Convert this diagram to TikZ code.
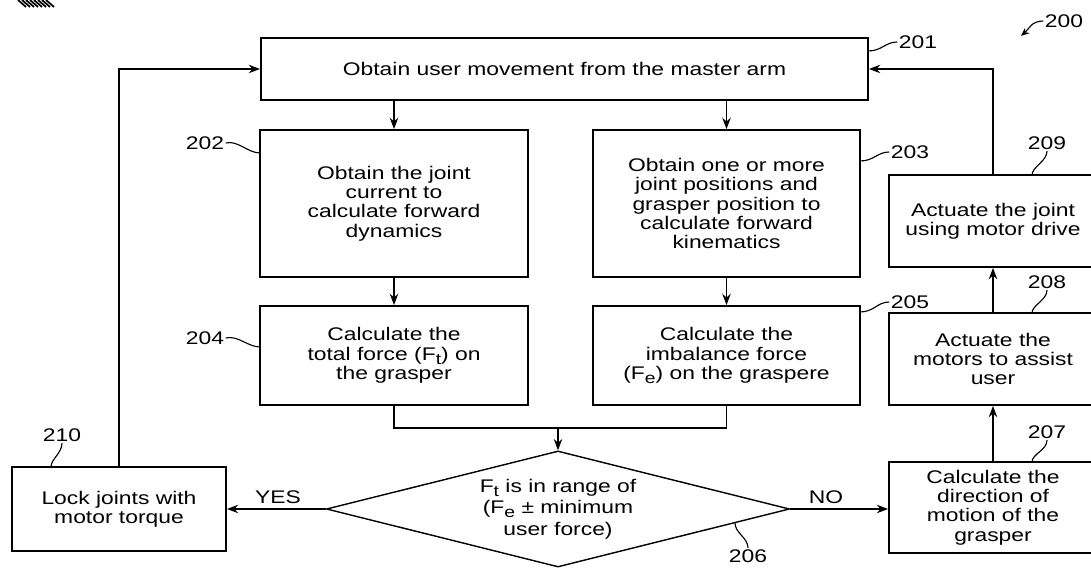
\documentclass[tikz,border=0pt]{standalone}
\usepackage{fontspec}
\setmainfont{Liberation Sans}[FakeStretch=1.25]
\usetikzlibrary{arrows.meta}
\usetikzlibrary{shapes.geometric}

\newcommand{\lowsub}[1]{\raisebox{-0.4ex}{\fontsize{11}{11}\selectfont #1}}

\tikzset{
    stepbox/.style={draw, line width=1.3pt, align=center, inner sep=0pt},
    decide/.style={draw, diamond, aspect=4, line width=1pt, align=center, inner sep=0pt},
    flow/.style={line width=1.1pt, -{Stealth[length=8pt,width=6pt]}},
    lead/.style={line width=0.8pt},
    refnum/.style={inner sep=1pt}
}

\begin{document}
\begin{tikzpicture}[x=0.025cm, y=-0.025cm, font=\fontsize{13}{13.8}\selectfont]
                \path[use as bounding box, clip] (0,0) rectangle (1091,569);

                \foreach \i in {0,...,7}
                    \draw[line width=1.2pt] (18+4*\i,0) -- (26+4*\i,7);

                \node[stepbox, minimum width=15.175cm, minimum height=1.55cm] (s201) at (564.5,69)
                    {Obtain user movement from the master arm};

                \node[stepbox, minimum width=6.7cm, minimum height=3.675cm] (s202) at (394,203.5)
                    {Obtain the joint\\current to\\calculate forward\\dynamics};
                \node[stepbox, minimum width=6.675cm, minimum height=3.675cm] (s203) at (726.5,203.5)
                    {Obtain one or more\\joint positions and\\grasper position to\\calculate forward\\kinematics};

                \node[stepbox, minimum width=6.7cm, minimum height=2.475cm] (s204) at (394,355.5)
                    {Calculate the\\total force (F\lowsub{t}) on\\the grasper};
                \node[stepbox, minimum width=6.675cm, minimum height=2.475cm] (s205) at (726.5,355.5)
                    {Calculate the\\imbalance force\\(F\lowsub{e}) on the graspere};

                \node[decide, minimum width=11.575cm, minimum height=2.9cm] (s206) at (558,509)
                    {F\lowsub{t} is in range of\\[1.5pt](F\lowsub{e} ± minimum\\[1.5pt]user force)};

                \node[stepbox, minimum width=5.2cm, minimum height=2.275cm] (s207) at (993,507.5)
                    {Calculate the\\direction of\\motion of the\\grasper};
                \node[stepbox, minimum width=5.2cm, minimum height=2.3cm] (s208) at (993,359)
                    {Actuate the\\motors to assist\\user};
                \node[stepbox, minimum width=5.2cm, minimum height=2.3cm] (s209) at (993,221)
                    {Actuate the joint\\using motor drive};

                \node[stepbox, minimum width=5.35cm, minimum height=2.1cm] (s210) at (119,509)
                    {Lock joints with\\motor torque};

                \coordinate (mrg) at (558,428);

                \draw[flow] (s201.south -| s202.north) -- (s202.north);
                \draw[flow] (s201.south -| s203.north) -- (s203.north);
                \draw[flow] (s202) -- (s204);
                \draw[flow] (s203) -- (s205);
                \draw[line width=1.1pt] (s204.south) |- (mrg) -| (s205.south);
                \draw[flow] (mrg) -- (s206.north);
                \draw[flow] (s206.west) -- (s210.east);
                \draw[flow] (s206.east) -- (s206.east -| s207.west);
                \draw[flow] (s207) -- (s208);
                \draw[flow] (s208) -- (s209);
                \draw[flow] (s209.north) |- (s201.east);
                \draw[flow] (s210.north) |- (s201.west);

                \node (yes) at (278,497) {YES};
                \node (no) at (826,497) {NO};

                \node[refnum] (l200) at (1064,21) {200};
                \node[refnum] (l201) at (918,42) {201};
                \node[refnum] (l202) at (205,143) {202};
                \node[refnum] (l203) at (910,152) {203};
                \node[refnum] (l204) at (205,338) {204};
                \node[refnum] (l205) at (910,302) {205};
                \node[refnum] (l206) at (748,556) {206};
                \node[refnum] (l207) at (1047,432) {207};
                \node[refnum] (l208) at (1047,282) {208};
                \node[refnum] (l209) at (1047,143) {209};
                \node[refnum] (l210) at (62,435) {210};

                \coordinate (a200) at (1021,36);
                \coordinate (a201) at (868,51);
                \coordinate (a202) at (260,153);
                \coordinate (a203) at (860,161);
                \coordinate (a204) at (260,347);
                \coordinate (a205) at (860,312);
                \coordinate (a206) at (735,523);
                \coordinate (a207) at (1032,462);
                \coordinate (a208) at (1032,313);
                \coordinate (a209) at (1032,175);
                \coordinate (a210) at (51,467);

                \draw[lead, -{Stealth[length=6pt,width=5pt]}] (l200.west) .. controls +(-12,0) and +(8,-7) .. (a200);
                \draw[lead] (a201) .. controls +(14,0) and +(-12,0) .. (l201.west);
                \draw[lead] (l202.east) .. controls +(12,-3) and +(-12,0) .. (a202);
                \draw[lead] (a203) .. controls +(14,0) and +(-12,0) .. (l203.west);
                \draw[lead] (l204.east) .. controls +(12,-3) and +(-12,0) .. (a204);
                \draw[lead] (a205) .. controls +(14,0) and +(-12,0) .. (l205.west);
                \draw[lead] (a206) .. controls +(0,10) and +(0,-10) .. (l206.north);
                \draw[lead] (l207.south) .. controls +(0,10) and +(0,-8) .. (a207);
                \draw[lead] (l208.south) .. controls +(0,10) and +(0,-8) .. (a208);
                \draw[lead] (l209.south) .. controls +(0,10) and +(0,-8) .. (a209);
                \draw[lead] (l210.south) .. controls +(0,10) and +(0,-8) .. (a210);
\end{tikzpicture}
\end{document}
